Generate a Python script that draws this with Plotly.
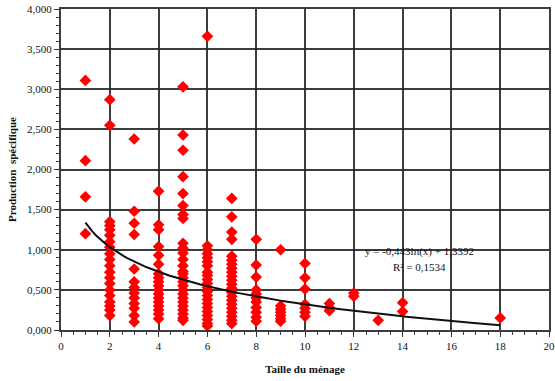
import numpy as np
import plotly.graph_objects as go

sizes = [1, 2, 3, 4, 5, 6, 7, 8, 9, 10, 11, 12, 13, 14, 18]
prod_1 = [3.11, 2.11, 1.66, 1.20]
prod_2 = [2.87, 2.55, 1.35, 1.30, 1.25, 1.18, 1.10, 1.03, 0.95, 0.88, 0.80, 0.72, 0.65, 0.58, 0.50, 0.43, 0.35, 0.30, 0.25, 0.18]
prod_3 = [2.38, 1.48, 1.33, 1.19, 0.76, 0.60, 0.53, 0.46, 0.40, 0.33, 0.27, 0.18, 0.10]
prod_4 = [1.73, 1.31, 1.25, 1.04, 0.93, 0.82, 0.70, 0.65, 0.60, 0.55, 0.50, 0.45, 0.40, 0.35, 0.30, 0.25, 0.20, 0.14]
prod_5 = [3.03, 2.43, 2.24, 1.91, 1.70, 1.55, 1.44, 1.39, 1.08, 1.02, 0.96, 0.88, 0.80, 0.73, 0.70, 0.65, 0.60, 0.55, 0.50, 0.45, 0.40, 0.35, 0.30, 0.25, 0.20, 0.15, 0.12]
prod_6 = [3.66, 1.05, 1.00, 0.95, 0.90, 0.85, 0.80, 0.72, 0.68, 0.63, 0.58, 0.53, 0.48, 0.43, 0.38, 0.33, 0.28, 0.23, 0.18, 0.13, 0.08, 0.05]
prod_7 = [1.64, 1.41, 1.22, 1.13, 0.92, 0.87, 0.82, 0.77, 0.72, 0.67, 0.62, 0.57, 0.52, 0.47, 0.42, 0.37, 0.32, 0.27, 0.22, 0.17, 0.12, 0.08]
prod_8 = [1.13, 0.81, 0.66, 0.50, 0.45, 0.40, 0.35, 0.28, 0.22, 0.16, 0.11]
prod_9 = [1.00, 0.30, 0.26, 0.22, 0.18, 0.14, 0.11]
prod_10 = [0.83, 0.65, 0.51, 0.32, 0.27, 0.22, 0.17]
prod_11 = [0.33, 0.28, 0.24]
prod_12 = [0.46, 0.42]
prod_13 = [0.12]
prod_14 = [0.34, 0.23]
prod_18 = [0.15]
columns = [prod_1, prod_2, prod_3, prod_4, prod_5, prod_6, prod_7, prod_8,
           prod_9, prod_10, prod_11, prod_12, prod_13, prod_14, prod_18]

trend_a = -0.443
trend_b = 1.3392
trend_label = "y = -0,443ln(x) + 1,3392"
r2_label = "R² = 0,1534"

y_tick_vals = [0, 0.5, 1, 1.5, 2, 2.5, 3, 3.5, 4]
y_tick_labels = ["0,000", "0,500", "1,000", "1,500", "2,000", "2,500", "3,000", "3,500", "4,000"]
x_tick_vals = [0, 2, 4, 6, 8, 10, 12, 14, 16, 18, 20]

xs, ys = [], []
for s, col in zip(sizes, columns):
    xs += [s] * len(col)
    ys += col

tx = np.linspace(1, 18, 120)
ty = trend_a * np.log(tx) + trend_b

font_family = "Liberation Serif"
grid_c = "rgba(40,40,40,0.9)"
txt_c = "#111"

fig = go.Figure()
fig.add_trace(go.Scatter(x=xs, y=ys, mode="markers",
                         marker=dict(symbol="diamond", size=9, color="#ff0000", line=dict(width=0)),
                         showlegend=False, cliponaxis=False))
fig.add_trace(go.Scatter(x=tx, y=ty, mode="lines", line=dict(color="#111111", width=2),
                         showlegend=False))

fig.add_annotation(x=14.7, y=0.98, xref="x", yref="y", text=trend_label, showarrow=False,
                   font=dict(family=font_family, size=11, color=txt_c), xanchor="center", yanchor="middle")
fig.add_annotation(x=14.7, y=0.79, xref="x", yref="y", text=r2_label, showarrow=False,
                   font=dict(family=font_family, size=11, color=txt_c), xanchor="center", yanchor="middle")

fig.update_layout(
    width=555, height=381,
    margin=dict(l=61, r=6, t=9, b=51, autoexpand=False),
    paper_bgcolor="white", plot_bgcolor="white",
    font=dict(family=font_family, size=11, color=txt_c),
    xaxis=dict(range=[0, 20], tickvals=x_tick_vals, ticktext=[str(v) for v in x_tick_vals],
               automargin=False, ticklabeloverflow="allow",
               showgrid=True, gridcolor=grid_c, gridwidth=2,
               showline=True, linecolor=grid_c, linewidth=2, mirror=True,
               ticks="outside", ticklen=5, tickcolor=grid_c, tickwidth=1,
               minor=dict(dtick=0.5, ticks="outside", ticklen=3, tickcolor=grid_c, showgrid=False),
               zeroline=False,
               title=dict(text="<b>Taille du ménage</b>", font=dict(family=font_family, size=11, color=txt_c), standoff=14),
               tickfont=dict(family=font_family, size=11, color=txt_c)),
    yaxis=dict(range=[0, 4], tickvals=y_tick_vals, ticktext=y_tick_labels,
               automargin=False, ticklabeloverflow="allow",
               showgrid=True, gridcolor=grid_c, gridwidth=2,
               showline=True, linecolor=grid_c, linewidth=2, mirror=True,
               ticks="outside", ticklen=5, tickcolor=grid_c, tickwidth=1,
               minor=dict(dtick=0.1, ticks="outside", ticklen=3, tickcolor=grid_c, showgrid=False),
               zeroline=False,
               title=dict(text="<b>Production  spécifique</b>", font=dict(family=font_family, size=11, color=txt_c), standoff=8),
               tickfont=dict(family=font_family, size=11, color=txt_c)),
)

fig.write_html("out.html")
